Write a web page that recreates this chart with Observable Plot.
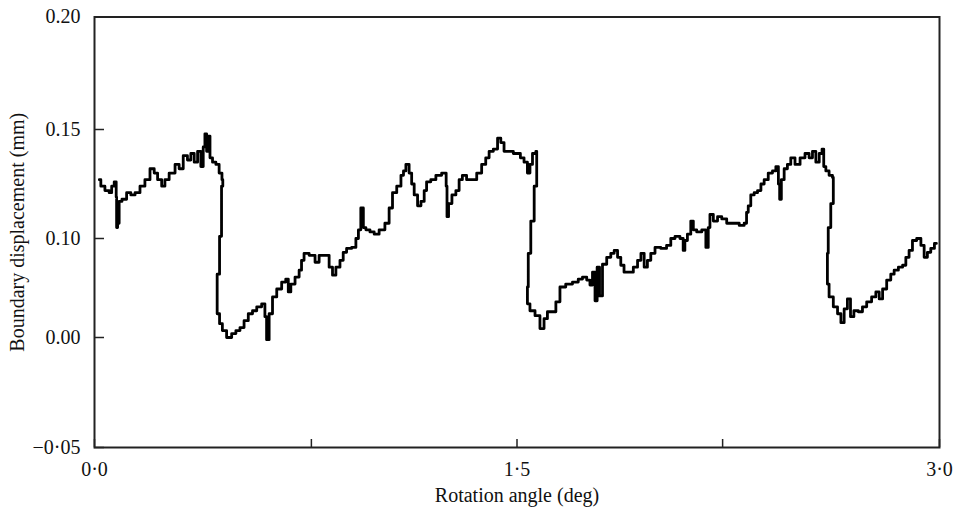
<!DOCTYPE html>
<html><head><meta charset="utf-8">
<script src="https://cdn.jsdelivr.net/npm/d3@7"></script>
<script src="https://cdn.jsdelivr.net/npm/@observablehq/plot@0.6"></script>
<style>body{margin:0;background:#fff}</style>
</head><body><div id="chart"></div>
<script>
const angle = [
0.017,0.028,0.046,0.058,0.064,0.076,0.078,0.079,0.085,0.090,
0.105,0.123,0.135,0.153,0.170,0.188,0.206,0.218,0.230,0.247,
0.253,0.277,0.295,0.306,0.324,0.336,0.348,0.360,0.372,0.383,
0.389,0.395,0.401,0.407,0.413,0.425,0.437,0.448,0.457,0.454,
0.448,0.440,0.431,0.440,0.448,0.460,0.478,0.496,0.508,0.525,
0.537,0.555,0.567,0.585,0.602,0.608,0.614,0.626,0.638,0.656,
0.673,0.685,0.691,0.703,0.721,0.732,0.738,0.750,0.774,0.792,
0.803,0.827,0.839,0.851,0.863,0.880,0.886,0.904,0.922,0.934,
0.940,0.951,0.958,0.969,0.987,0.999,1.022,1.040,1.052,1.064,
1.082,1.094,1.100,1.111,1.123,1.129,1.141,1.153,1.165,1.176,
1.182,1.206,1.218,1.247,1.250,1.253,1.261,1.277,1.289,1.300,
1.312,1.330,1.348,1.366,1.383,1.395,1.407,1.425,1.437,1.448,
1.460,1.478,1.496,1.505,1.519,1.531,1.543,1.549,1.561,1.573,
1.567,1.555,1.543,1.537,1.537,1.555,1.573,1.590,1.602,1.614,
1.632,1.644,1.661,1.685,1.709,1.726,1.739,1.756,1.762,1.774,
1.780,1.789,1.797,1.810,1.827,1.839,1.851,1.863,1.874,1.886,
1.904,1.922,1.934,1.946,1.957,1.969,1.981,1.999,2.022,2.040,
2.052,2.070,2.087,2.093,2.099,2.111,2.123,2.129,2.147,2.165,
2.176,2.182,2.188,2.206,2.218,2.236,2.253,2.277,2.301,2.312,
2.318,2.324,2.336,2.348,2.360,2.372,2.383,2.401,2.413,2.425,
2.431,2.434,2.443,2.454,2.466,2.478,2.496,2.514,2.531,2.543,
2.555,2.567,2.579,2.587,2.591,2.602,2.614,2.626,2.620,2.608,
2.602,2.602,2.614,2.632,2.644,2.656,2.667,2.679,2.689,2.703,
2.720,2.733,2.750,2.768,2.780,2.792,2.804,2.821,2.833,2.845,
2.863,2.875,2.886,2.898,2.910,2.928,2.940,2.951,2.963,2.975,
2.989
];
const disp = [
0.127,0.124,0.122,0.121,0.124,0.126,0.119,0.105,0.107,0.117,
0.118,0.121,0.120,0.121,0.124,0.127,0.132,0.130,0.127,0.124,
0.127,0.130,0.134,0.132,0.138,0.136,0.139,0.135,0.140,0.133,
0.142,0.148,0.140,0.147,0.137,0.135,0.134,0.130,0.127,0.124,
0.101,0.064,0.036,0.024,0.014,0.007,0.000,0.004,0.007,0.010,
0.017,0.024,0.027,0.031,0.034,0.021,-0.001,0.024,0.041,0.049,
0.056,0.059,0.046,0.054,0.061,0.068,0.078,0.085,0.083,0.076,
0.083,0.083,0.071,0.063,0.071,0.078,0.086,0.090,0.091,0.100,
0.104,0.114,0.105,0.104,0.103,0.102,0.104,0.107,0.114,0.121,
0.124,0.129,0.131,0.134,0.130,0.125,0.120,0.115,0.117,0.122,
0.126,0.127,0.129,0.130,0.124,0.110,0.116,0.120,0.122,0.127,
0.129,0.127,0.127,0.130,0.134,0.137,0.140,0.141,0.146,0.144,
0.140,0.140,0.139,0.139,0.137,0.135,0.130,0.134,0.139,0.140,
0.124,0.108,0.085,0.051,0.034,0.027,0.022,0.009,0.019,0.026,
0.026,0.036,0.051,0.054,0.056,0.059,0.061,0.058,0.053,0.066,
0.037,0.071,0.042,0.074,0.081,0.085,0.088,0.081,0.073,0.066,
0.066,0.071,0.078,0.085,0.071,0.078,0.085,0.091,0.090,0.093,
0.100,0.101,0.100,0.088,0.098,0.102,0.108,0.104,0.103,0.104,
0.091,0.105,0.111,0.108,0.110,0.109,0.107,0.107,0.106,0.107,
0.112,0.115,0.120,0.121,0.122,0.125,0.127,0.130,0.131,0.133,
0.125,0.118,0.127,0.132,0.134,0.137,0.134,0.137,0.139,0.137,
0.140,0.135,0.139,0.141,0.133,0.131,0.129,0.128,0.116,0.105,
0.085,0.054,0.041,0.031,0.024,0.015,0.029,0.039,0.021,0.027,
0.026,0.031,0.036,0.041,0.046,0.039,0.049,0.058,0.064,0.068,
0.071,0.073,0.081,0.088,0.098,0.100,0.093,0.081,0.086,0.090,
0.095
];
const yTicks = [-0.05, 0, 0.10, 0.15, 0.20];
const yTickLabels = ["\u22120\u00b705", "0.00", "0.10", "0.15", "0.20"];
const xLabelTicks = [0, 1.5, 3.0];
const xTickLabels = ["0\u00b70", "1\u00b75", "3\u00b70"];
const xAllTicks = [0, 0.77, 1.5, 2.23, 3.0];
const xTitle = "Rotation angle (deg)";
const yTitle = "Boundary displacement (mm)";

const W = 959, H = 513, mt = 16.5, mb = 66, ml = 94, mr = 20;
// the printed y axis is not evenly labelled: piecewise mapping of labels onto the axis
const yPiece = d3.scaleLinear().domain(yTicks).range([0, 110, 209, 318, 430.5]);
const data = angle.map((x, i) => ({x, y: disp[i]}));

const chart = Plot.plot({
  width: W, height: H,
  marginTop: mt, marginBottom: mb, marginLeft: ml, marginRight: mr,
  style: {fontFamily: "'Liberation Serif', 'Times New Roman', serif", fontSize: "20px", color: "#111", background: "#fff"},
  x: {domain: [0, 3]},
  y: {transform: v => yPiece(v), domain: [0, 430.5]},
  marks: [
    Plot.axisY(yTicks, {tickSize: 0, tickPadding: 14, tickFormat: d => yTickLabels[yTicks.indexOf(d)], label: null, fontSize: 20}),
    Plot.axisY(yTicks, {tickSize: -10, tickFormat: () => "", label: null, stroke: "#222", strokeWidth: 1.5}),
    Plot.axisX(xLabelTicks, {tickSize: 0, tickPadding: 14, tickFormat: d => xTickLabels[xLabelTicks.indexOf(d)], label: null, fontSize: 20}),
    Plot.axisX(xAllTicks, {tickSize: -8, tickFormat: () => "", label: null, stroke: "#222", strokeWidth: 1.5}),
    Plot.frame({stroke: "#222", strokeWidth: 2}),
    Plot.line(data, {x: "x", y: "y", curve: "step", stroke: "#000", strokeWidth: 2.8, strokeLinejoin: "round"}),
    Plot.text([xTitle], {frameAnchor: "bottom", dy: 54, text: d => d, fontSize: 20, fill: "#111"}),
    Plot.text([yTitle], {frameAnchor: "left", dx: -77, rotate: -90, textAnchor: "middle", text: d => d, fontSize: 20, fill: "#111"})
  ]
});
document.getElementById("chart").appendChild(chart);
</script>
</body></html>
